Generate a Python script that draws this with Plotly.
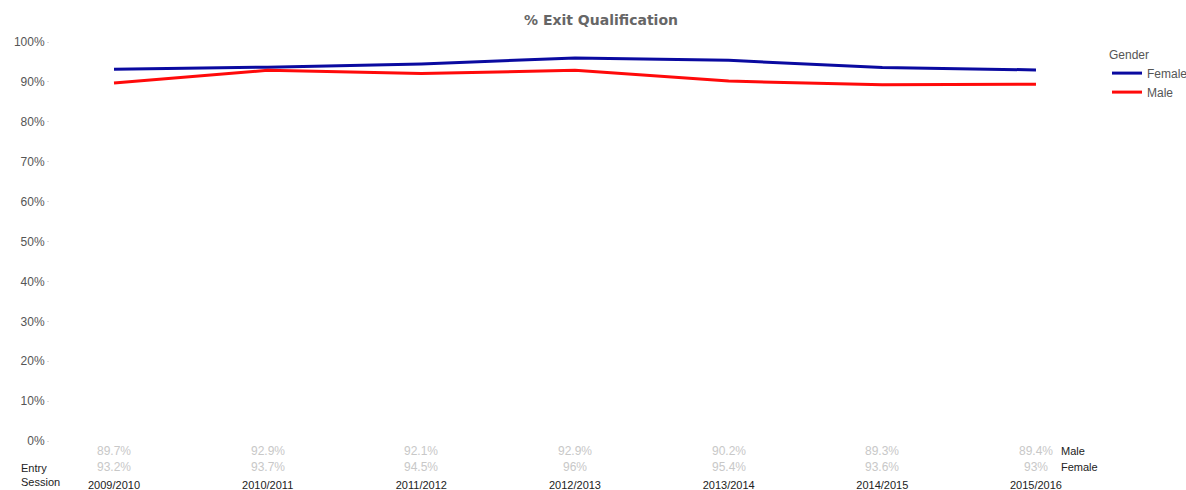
import plotly.graph_objects as go

sessions = ["2009/2010", "2010/2011", "2011/2012", "2012/2013", "2013/2014", "2014/2015", "2015/2016"]
female = [93.2, 93.7, 94.5, 96.0, 95.4, 93.6, 93.0]
male = [89.7, 92.9, 92.1, 92.9, 90.2, 89.3, 89.4]
female_labels = ["93.2%", "93.7%", "94.5%", "96%", "95.4%", "93.6%", "93%"]
male_labels = ["89.7%", "92.9%", "92.1%", "92.9%", "90.2%", "89.3%", "89.4%"]

FONT = "Liberation Sans, Arial, sans-serif"

fig = go.Figure()
fig.add_trace(go.Scatter(x=sessions, y=[v / 100 for v in female], mode="lines",
                         name="Female", line=dict(color="#0a0aa0", width=3)))
fig.add_trace(go.Scatter(x=sessions, y=[v / 100 for v in male], mode="lines",
                         name="Male", line=dict(color="#ff0a0a", width=3)))

# data table under the axis
for i, s in enumerate(sessions):
    fig.add_annotation(x=s, y=0, xref="x", yref="paper", yshift=-10, text=male_labels[i],
                       showarrow=False, font=dict(size=12, color="#c8c8c8"), yanchor="middle")
    fig.add_annotation(x=s, y=0, xref="x", yref="paper", yshift=-26, text=female_labels[i],
                       showarrow=False, font=dict(size=12, color="#c8c8c8"), yanchor="middle")

fig.add_annotation(x=sessions[-1], y=0, xref="x", yref="paper", yshift=-10, xshift=23,
                   text="Male", showarrow=False, xanchor="left", yanchor="middle",
                   font=dict(size=11, color="#222"))
fig.add_annotation(x=sessions[-1], y=0, xref="x", yref="paper", yshift=-26, xshift=23,
                   text="Female", showarrow=False, xanchor="left", yanchor="middle",
                   font=dict(size=11, color="#222"))
fig.add_annotation(x=0, y=0, xref="paper", yref="paper", xshift=-31, yshift=-34,
                   text="Entry<br>Session", showarrow=False, xanchor="left", yanchor="middle",
                   align="left", font=dict(size=11, color="#222"))

fig.update_layout(
    width=1186, height=490,
    margin=dict(l=50, r=100, t=42, b=49),
    plot_bgcolor="white", paper_bgcolor="white",
    font=dict(family=FONT, size=12, color="#555"),
    title=dict(text="<b>% Exit Qualification</b>", x=601 / 1186, xanchor="center", y=1 - 20 / 490,
               yanchor="middle",
               font=dict(family="DejaVu Sans, Verdana, sans-serif", size=14, color="#666")),
    legend=dict(title=dict(text="Gender", font=dict(size=12, color="#555")),
                xref="container", yref="container", x=1107 / 1186, xanchor="left",
                y=1 - 43 / 490, yanchor="top",
                font=dict(size=12, color="#555"), tracegroupgap=0, itemwidth=30),
    xaxis=dict(type="category", range=[-0.4165, 6.3255], showgrid=False, zeroline=False,
               showline=False, ticks="", ticklabelstandoff=36, automargin=False,
               tickfont=dict(size=11, color="#222")),
    yaxis=dict(range=[0, 1], tickformat=".0%", dtick=0.1, showgrid=False, zeroline=False,
               showline=False, ticks="outside", ticklen=2, tickcolor="#ddd", automargin=False,
               tickfont=dict(size=12, color="#555")),
)

fig.write_html("out.html", config={"displayModeBar": False},
               post_script="document.body.style.margin='0';")
